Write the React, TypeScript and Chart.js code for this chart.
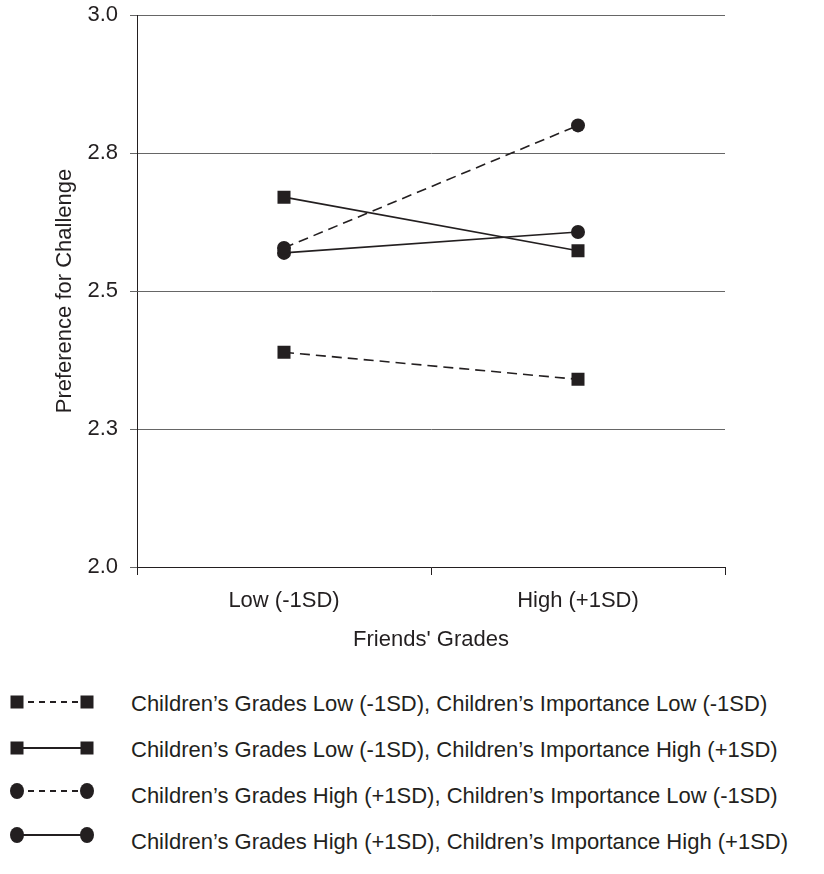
import React, { useEffect, useRef } from "react";
import { Chart, registerables } from "chart.js";

Chart.register(...registerables);

const categories = ["Low (-1SD)", "High (+1SD)"];
const gradesLowImpLow = [2.389, 2.34];
const gradesLowImpHigh = [2.67, 2.573];
const gradesHighImpLow = [2.578, 2.8];
const gradesHighImpHigh = [2.569, 2.607];
const yTickValues = [2.0, 2.25, 2.5, 2.75, 3.0];
const seriesLabels = [
  "Children\u2019s Grades Low (-1SD), Children\u2019s Importance Low (-1SD)",
  "Children\u2019s Grades Low (-1SD), Children\u2019s Importance High (+1SD)",
  "Children\u2019s Grades High (+1SD), Children\u2019s Importance Low (-1SD)",
  "Children\u2019s Grades High (+1SD), Children\u2019s Importance High (+1SD)",
];
const xTitle = "Friends' Grades";
const yTitle = "Preference for Challenge";

const FONT = "'Liberation Sans', Arial, Helvetica, sans-serif";
const INK = "#231f20";

type Sym = { shape: "rect" | "circle"; dashed: boolean };
const symbols: Sym[] = [
  { shape: "rect", dashed: true },
  { shape: "rect", dashed: false },
  { shape: "circle", dashed: true },
  { shape: "circle", dashed: false },
];

function LegendSymbol({ sym }: { sym: Sym }) {
  const marker = (cx: number) =>
    sym.shape === "rect" ? (
      <rect x={cx - 6.5} y={10 - 6.5} width={13} height={13} fill={INK} />
    ) : (
      <ellipse cx={cx} cy={10} rx={7} ry={8} fill={INK} />
    );
  return (
    <svg width={110} height={20} style={{ display: "block" }}>
      <line
        x1={17}
        y1={10}
        x2={87}
        y2={10}
        stroke={INK}
        strokeWidth={1.8}
        strokeDasharray={sym.dashed ? "6 5" : undefined}
      />
      {marker(17)}
      {marker(87)}
    </svg>
  );
}

export default function App() {
  const ref = useRef<HTMLCanvasElement | null>(null);

  useEffect(() => {
    const canvas = ref.current;
    if (!canvas) return;
    const font = { family: FONT, size: 22 };
    const mk = (data: number[], shape: "rect" | "circle", dashed: boolean, label: string) => ({
      label,
      data,
      borderColor: INK,
      backgroundColor: INK,
      borderWidth: 1.6,
      borderDash: dashed ? [10, 6] : [],
      pointStyle: shape,
      pointRadius: shape === "rect" ? 9.2 : 7,
      pointBorderWidth: 0,
      pointBackgroundColor: INK,
      pointBorderColor: INK,
      fill: false,
      tension: 0,
    });
    const chart = new Chart(canvas, {
      type: "line",
      data: {
        labels: categories,
        datasets: [
          mk(gradesLowImpLow, "rect", true, seriesLabels[0]),
          mk(gradesLowImpHigh, "rect", false, seriesLabels[1]),
          mk(gradesHighImpLow, "circle", true, seriesLabels[2]),
          mk(gradesHighImpHigh, "circle", false, seriesLabels[3]),
        ],
      },
      options: {
        animation: false,
        responsive: false,
        devicePixelRatio: 1,
        layout: { autoPadding: false, padding: { left: 0, right: 99, top: 15, bottom: 0 } },
        plugins: { legend: { display: false }, tooltip: { enabled: false } },
        scales: {
          x: {
            type: "category",
            offset: true,
            grid: {
              offset: true,
              drawOnChartArea: false,
              drawTicks: true,
              tickLength: 8,
              color: INK,
              lineWidth: 1,
            },
            border: { display: true, color: INK, width: 1 },
            ticks: { color: INK, font, padding: 13, maxRotation: 0, autoSkip: false },
            title: {
              display: true,
              text: xTitle,
              color: INK,
              font,
              padding: { top: 0, bottom: 14 },
            },
            afterFit: (s: any) => {
              s.height = 100;
              s.paddingLeft = 0;
              s.paddingRight = 0;
            },
          },
          y: {
            min: 2,
            max: 3,
            afterBuildTicks: (s: any) => {
              s.ticks = yTickValues.map((v) => ({ value: v }));
            },
            ticks: {
              color: INK,
              font,
              padding: 12,
              callback: (v: any) => Number(v).toFixed(1),
            },
            grid: { color: "#666", lineWidth: 1, tickLength: 7, drawTicks: true },
            border: { display: true, color: INK, width: 1 },
            title: {
              display: true,
              text: yTitle,
              color: INK,
              font,
              padding: { top: 52, bottom: 0 },
            },
            afterFit: (s: any) => {
              s.width = 137;
              s.paddingTop = 0;
              s.paddingBottom = 0;
            },
          },
        },
      },
    } as any);
    return () => chart.destroy();
  }, []);

  const rowCenters = [704, 750, 796, 842];
  const symCenters = [702, 748, 791, 835];

  return (
    <div
      style={{
        position: "absolute",
        left: 0,
        top: 0,
        width: 824,
        height: 874,
        background: "#fff",
        fontFamily: FONT,
        color: INK,
      }}
    >
      <canvas ref={ref} width={824} height={667} style={{ position: "absolute", left: 0, top: 0 }} />
      {seriesLabels.map((label, i) => (
        <React.Fragment key={i}>
          <div style={{ position: "absolute", left: 0, top: symCenters[i] - 10 }}>
            <LegendSymbol sym={symbols[i]} />
          </div>
          <div
            style={{
              position: "absolute",
              left: 131,
              top: rowCenters[i] - 13,
              fontSize: 22,
              lineHeight: "26px",
              whiteSpace: "nowrap",
            }}
          >
            {label}
          </div>
        </React.Fragment>
      ))}
    </div>
  );
}
